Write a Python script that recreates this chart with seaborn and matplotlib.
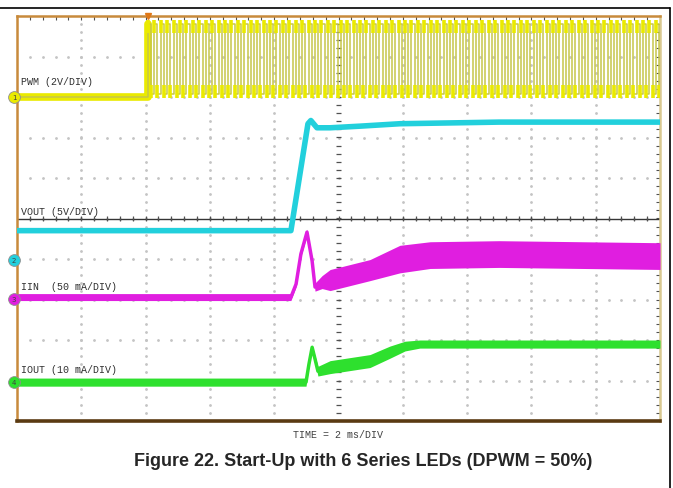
import numpy as np
import pandas as pd
import seaborn as sns
import matplotlib.pyplot as plt
from matplotlib.lines import Line2D

# scope traces, time in ms (2 ms/DIV, 10 DIV)
vout_t = [0, 8.52, 9.05, 9.14, 9.33, 9.74, 10.67, 11.91, 13.47, 15.0, 20.0]
vout_v = [3.6, 3.6, 16.8, 17.2, 16.3, 16.3, 16.5, 16.8, 16.9, 17.0, 17.0]

iin_t = [0, 8.52, 8.68, 8.83, 9.02, 9.18, 9.27, 9.49, 9.74, 10.98, 11.91, 12.85, 15.0, 20.0]
iin_ma = [2.5, 2.5, 18.5, 55.6, 82.7, 46.9, 14.8, 21.0, 23.5, 35.8, 49.4, 54.3, 55.6, 53.1]
iin_ripple = [4.3, 4.3, 3.5, 3.5, 3.5, 3.5, 5.0, 8.0, 13.0, 13.0, 17.0, 16.5, 16.5, 16.5]

iout_t = [0, 8.99, 9.08, 9.18, 9.27, 9.36, 9.74, 10.98, 11.60, 12.07, 12.53, 20.0]
iout_ma = [0, 0, 4.4, 8.6, 5.7, 2.7, 3.7, 5.2, 7.4, 8.9, 9.4, 9.4]
iout_ripple = [1.0, 1.0, 0.6, 0.6, 0.8, 1.2, 1.6, 1.6, 1.5, 1.2, 1.0, 1.0]

# PWM dimming signal: 5 kHz, 50 % duty, starts at the trigger
pwm_start = 4.07
pwm_period = 0.2
pwm_duty = 0.5
pwm_high = 3.6
pwm_low = 0.15

# channel settings: units per DIV and ground position (DIV from bottom)
ch_scale = {'PWM': 2, 'VOUT': 5, 'IIN': 50, 'IOUT': 10}
ch_pos = {'PWM': 8.01, 'VOUT': 3.98, 'IIN': 3.01, 'IOUT': 0.96}
ch_color = {'PWM': '#eaea00', 'VOUT': '#22d0dc', 'IIN': '#e01ee0', 'IOUT': '#2ee02e'}
ch_label = {'PWM': 'PWM (2V/DIV)', 'VOUT': 'VOUT (5V/DIV)',
            'IIN': 'IIN  (50 mA/DIV)', 'IOUT': 'IOUT (10 mA/DIV)'}
ch_label_y = {'PWM': 8.4, 'VOUT': 5.19, 'IIN': 3.33, 'IOUT': 1.28}
ch_num = {'PWM': '1', 'VOUT': '2', 'IIN': '3', 'IOUT': '4'}


def to_div(name, vals):
    return ch_pos[name] + np.asarray(vals, dtype=float) / ch_scale[name]


sns.set_style('white')
fig = plt.figure(figsize=(6.73, 4.89), dpi=100)
ax = fig.add_axes([17 / 673, 1 - 422 / 489, 643 / 673, 405 / 489])
ax.set_xlim(0, 20)
ax.set_ylim(0, 10)

# graticule dots
for gx in np.arange(2, 20, 2):
    if gx == 10:
        continue
    yy = np.arange(0.2, 10, 0.2)
    ax.plot([gx] * len(yy), yy, ls='none', marker='o', ms=1.0, color='#c4c4c4', zorder=1)
for gy in range(1, 10):
    xx = np.arange(0.4, 20, 0.4)
    ax.plot(xx, [gy] * len(xx), ls='none', marker='o', ms=1.0, color='#c4c4c4', zorder=1)
# centre cross
ax.axhline(5, color='#353535', lw=1.0, zorder=1)
ax.hlines(np.arange(0.2, 10, 0.2), 9.93, 10.07, color='#505050', lw=0.9, zorder=1)
ax.vlines(np.arange(0.4, 20, 0.4), 4.93, 5.07, color='#505050', lw=0.9, zorder=1)

# PWM square wave
edges = np.arange(pwm_start, 20, pwm_period)
falls = edges + pwm_period * pwm_duty
pt, pv = [0, pwm_start], [0, 0]
for e, f in zip(edges, falls):
    pt += [e, e, f, f]
    pv += [pwm_low, pwm_high, pwm_high, pwm_low]
pwm = pd.DataFrame({'t': pt, 'y': to_div('PWM', pv)})
pwm = pwm[pwm.t <= 20]
sns.lineplot(data=pwm[pwm.t <= pwm_start], x='t', y='y', ax=ax, color=ch_color['PWM'],
             lw=5.5, estimator=None, sort=False, zorder=3)
sns.lineplot(data=pwm, x='t', y='y', ax=ax, color='#c6c64a', lw=1.1,
             estimator=None, sort=False, zorder=3)
# ringing blobs on the edges
hi = to_div('PWM', [pwm_high])[0]
lo = to_div('PWM', [pwm_low])[0]
ax.vlines(edges, hi - 0.22, hi + 0.08, color=ch_color['PWM'], lw=2.6, zorder=4)
ax.vlines(falls[falls < 20], lo - 0.12, lo + 0.2, color=ch_color['PWM'], lw=2.6, zorder=4)

# VOUT
sns.lineplot(x=vout_t, y=to_div('VOUT', vout_v), ax=ax, color=ch_color['VOUT'],
             lw=4.0, estimator=None, sort=False, zorder=3)

# IIN
c = np.array(iin_ma)
r = np.array(iin_ripple)
ax.fill_between(iin_t, to_div('IIN', c - r), to_div('IIN', c + r), color=ch_color['IIN'],
                lw=0, zorder=3)
sns.lineplot(x=iin_t, y=to_div('IIN', c), ax=ax, color=ch_color['IIN'], lw=2.5,
             estimator=None, sort=False, zorder=3)

# IOUT
c = np.array(iout_ma)
r = np.array(iout_ripple)
ax.fill_between(iout_t, to_div('IOUT', c - r), to_div('IOUT', c + r), color=ch_color['IOUT'],
                lw=0, zorder=3)
sns.lineplot(x=iout_t, y=to_div('IOUT', c), ax=ax, color=ch_color['IOUT'], lw=2.5,
             estimator=None, sort=False, zorder=3)

# channel labels and ground markers
for name in ch_scale:
    ax.text(0.12, ch_label_y[name], ch_label[name], family='Liberation Mono', fontsize=7.2,
            color='#303030', va='center', ha='left', zorder=4)
    ax.plot(-0.09, ch_pos[name], 'o', ms=8.5, mfc=ch_color[name], mec='#909090', mew=0.6,
            clip_on=False, zorder=5)
    ax.text(-0.09, ch_pos[name], ch_num[name], fontsize=5, ha='center', va='center',
            color='#404040', zorder=6, clip_on=False)

# trigger marker
ax.plot(pwm_start, 10, 'v', ms=5, color='#e07818', clip_on=False, zorder=6)

# frame
ax.set_xticks([])
ax.set_yticks([])
ax.set_xticks(np.arange(0.4, 20, 0.4), minor=True)
ax.set_yticks(np.arange(0.2, 10, 0.2), minor=True)
ax.tick_params(which='minor', direction='in', length=3, width=0.8, color='#505050',
               top=True, right=True, labelbottom=False, labelleft=False)
for s in ['left', 'top']:
    ax.spines[s].set_color('#c88a3c')
    ax.spines[s].set_linewidth(1.8)
ax.spines['right'].set_color('#d8c890')
ax.spines['right'].set_linewidth(1.8)
ax.spines['bottom'].set_color('#5a3a12')
ax.spines['bottom'].set_linewidth(2.6)
ax.set_xlabel('')
ax.set_ylabel('')

# page border and captions
fig.add_artist(Line2D([0, 670 / 673], [1 - 9 / 489] * 2, color='black', lw=1.2,
                      transform=fig.transFigure))
fig.add_artist(Line2D([670 / 673] * 2, [0, 1 - 9 / 489], color='black', lw=1.2,
                      transform=fig.transFigure))
fig.text(338 / 673, 1 - 435 / 489, 'TIME = 2 ms/DIV', family='Liberation Mono', fontsize=7.2,
         color='#404040', ha='center', va='center')
fig.text(363 / 673, 1 - 462 / 489, 'Figure 22. Start-Up with 6 Series LEDs (DPWM = 50%)',
         family='Liberation Sans', fontweight='bold', fontsize=13, ha='center', va='center')

fig.savefig('out.png', dpi=100)
